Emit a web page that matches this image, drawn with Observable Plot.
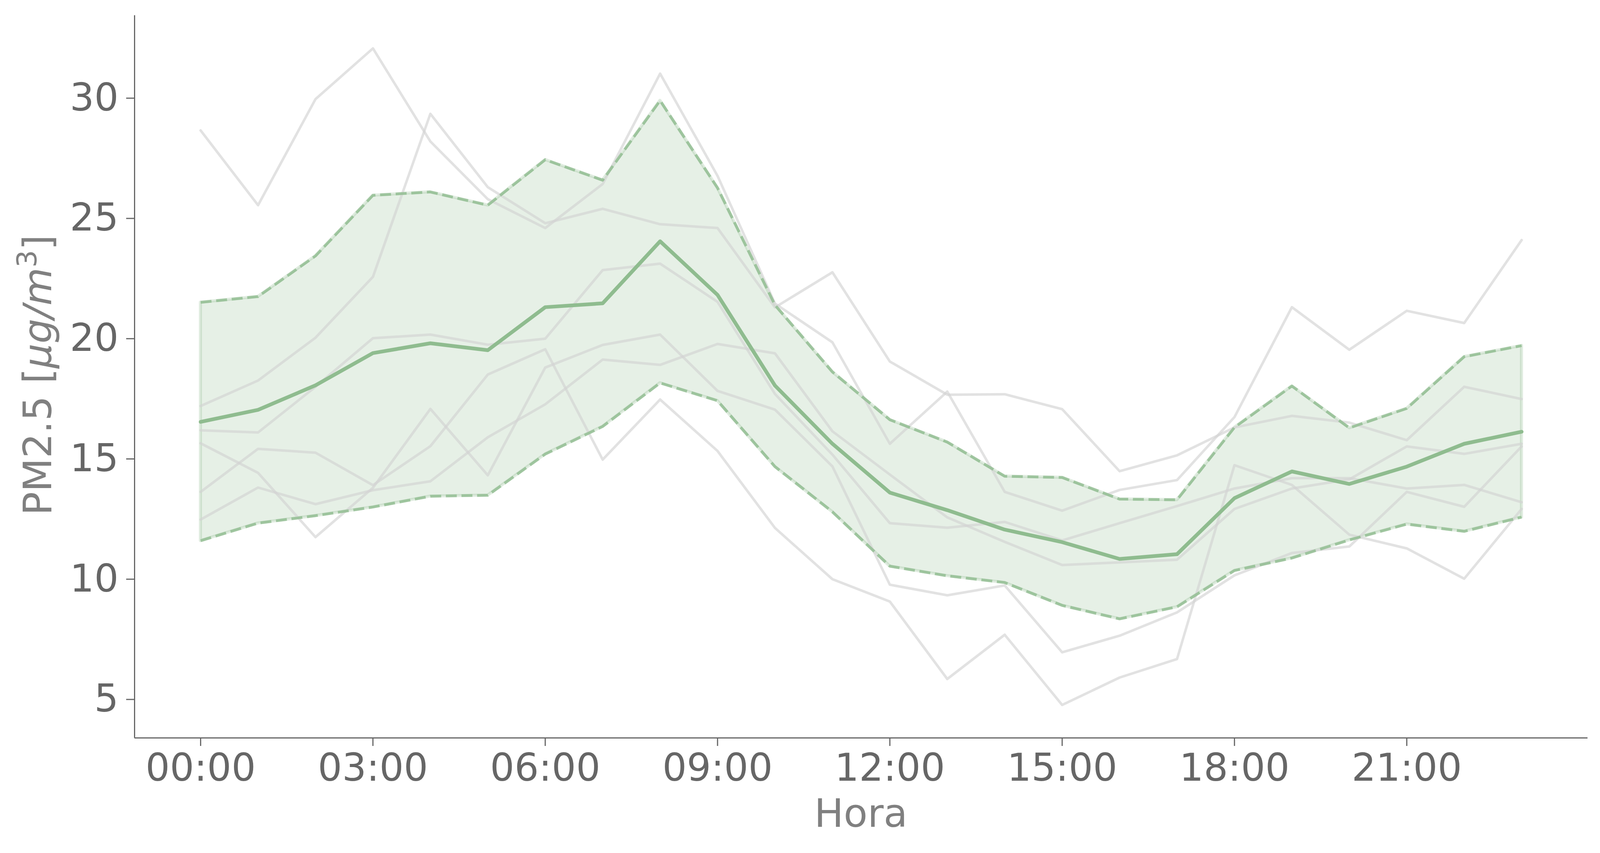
<!DOCTYPE html>
<html>
<head>
<meta charset="utf-8">
<script src="https://cdn.jsdelivr.net/npm/d3@7"></script>
<script src="https://cdn.jsdelivr.net/npm/@observablehq/plot@0.6"></script>
<style>
  html, body { margin: 0; padding: 0; background: #ffffff; }
  #chart { width: 4103px; height: 2183px; }
</style>
</head>
<body>
<div id="chart"></div>
<script>
// ---- data ----
const hours = [0, 1, 2, 3, 4, 5, 6, 7, 8, 9, 10, 11, 12, 13, 14, 15, 16, 17, 18, 19, 20, 21, 22, 23];
const tickHours = [0, 3, 6, 9, 12, 15, 18, 21];
const tickLabels = ["00:00", "03:00", "06:00", "09:00", "12:00", "15:00", "18:00", "21:00"];
const yTicks = [5, 10, 15, 20, 25, 30];

const series1 = [28.66, 25.55, 29.96, 32.07, 28.2, 25.8, 24.6, 26.43, 31.02, 26.77, 21.46, 19.85, 15.63, 17.8, 13.63, 12.85, 13.71, 14.12, 16.74, 21.31, 19.54, 21.16, 20.65, 24.1];
const series2 = [17.2, 18.26, 20.04, 22.57, 29.35, 26.3, 24.8, 25.4, 24.76, 24.6, 21.3, 22.76, 19.05, 17.67, 17.69, 17.07, 14.49, 15.15, 16.31, 16.79, 16.51, 15.78, 18.0, 17.49];
const series3 = [16.19, 16.1, 18.0, 20.02, 20.17, 19.75, 20.0, 22.85, 23.12, 21.53, 17.7, 15.18, 12.33, 12.14, 12.38, 11.61, 12.33, 13.04, 13.77, 14.2, 14.2, 13.77, 13.92, 13.2];
const series4 = [15.65, 14.42, 11.75, 13.8, 17.08, 14.32, 18.8, 19.74, 20.17, 17.83, 17.05, 14.69, 9.77, 9.33, 9.74, 6.96, 7.65, 8.62, 10.16, 11.09, 11.36, 13.63, 13.01, 15.52];
const series5 = [13.63, 15.42, 15.26, 13.91, 15.53, 18.51, 19.56, 14.97, 17.47, 15.33, 12.13, 10.0, 9.07, 5.85, 7.69, 4.77, 5.91, 6.68, 14.74, 13.92, 11.85, 11.28, 10.02, 12.92];
const series6 = [12.48, 13.81, 13.12, 13.7, 14.07, 15.9, 17.27, 19.13, 18.91, 19.78, 19.39, 16.15, 14.35, 12.57, 11.55, 10.59, 10.7, 10.81, 12.92, 13.77, 14.15, 15.52, 15.21, 15.63];

const meanValues  = [16.54, 17.04, 18.06, 19.4, 19.81, 19.52, 21.31, 21.47, 24.05, 21.82, 18.05, 15.63, 13.6, 12.87, 12.06, 11.54, 10.84, 11.04, 13.37, 14.48, 13.96, 14.68, 15.63, 16.13];
const upperValues = [21.51, 21.75, 23.44, 25.96, 26.1, 25.55, 27.44, 26.59, 29.9, 26.27, 21.4, 18.62, 16.63, 15.7, 14.28, 14.23, 13.33, 13.3, 16.31, 18.03, 16.29, 17.1, 19.25, 19.71];
const lowerValues = [11.6, 12.33, 12.64, 13.0, 13.45, 13.49, 15.2, 16.35, 18.16, 17.42, 14.68, 12.8, 10.54, 10.14, 9.86, 8.91, 8.35, 8.85, 10.36, 10.88, 11.63, 12.29, 11.99, 12.58];

// ---- tables built from the arrays ----
const greySeries = [series1, series2, series3, series4, series5, series6];
const greyRows = greySeries.flatMap((vals, i) => hours.map((h, j) => ({hour: h, value: vals[j], series: i})));
const band = hours.map((h, j) => ({hour: h, mean: meanValues[j], upper: upperValues[j], lower: lowerValues[j]}));

const xDomain = [-1.15, 24.15];
const yDomain = [3.4, 33.44];
const green = "darkseagreen";
const axisColor = "#666666";
const font = "DejaVu Sans";

const chart = Plot.plot({
  width: 4103,
  height: 2183,
  marginLeft: 344,
  marginRight: 39,
  marginTop: 39,
  marginBottom: 295,
  style: {background: "#ffffff", fontFamily: font, fontSize: "98px", color: axisColor, overflow: "visible"},
  x: {type: "linear", domain: xDomain},
  y: {type: "linear", domain: yDomain},
  marks: [
    Plot.areaY(band, {x: "hour", y1: "lower", y2: "upper", fill: green, fillOpacity: 0.22, stroke: green, strokeOpacity: 0.28, strokeWidth: 8, strokeLinejoin: "round", curve: "linear"}),
    Plot.line(greyRows, {x: "hour", y: "value", z: "series", stroke: "#d3d3d3", strokeOpacity: 0.65, strokeWidth: 6.5, curve: "linear"}),
    Plot.line(band, {x: "hour", y: "upper", stroke: green, strokeOpacity: 0.8, strokeWidth: 7, strokeDasharray: "28,12", strokeLinecap: "butt", curve: "linear"}),
    Plot.line(band, {x: "hour", y: "lower", stroke: green, strokeOpacity: 0.8, strokeWidth: 7, strokeDasharray: "28,12", strokeLinecap: "butt", curve: "linear"}),
    Plot.line(band, {x: "hour", y: "mean", stroke: green, strokeWidth: 9.5, curve: "linear"}),
    Plot.ruleX([xDomain[0]], {stroke: axisColor, strokeWidth: 3}),
    Plot.ruleY([yDomain[0]], {stroke: axisColor, strokeWidth: 3}),
    Plot.axisX({ticks: tickHours, tickFormat: (d) => tickLabels[tickHours.indexOf(d)], tickSize: 21, tickPadding: 19, stroke: axisColor, strokeWidth: 3, fill: axisColor, label: null}),
    Plot.axisY({ticks: yTicks, tickSize: 21, tickPadding: 20, stroke: axisColor, strokeWidth: 3, fill: axisColor, label: null})
  ]
});

document.getElementById("chart").appendChild(chart);

// axis titles as real text
const svg = d3.select(chart);
svg.append("text")
  .attr("x", (344 + 4064) / 2)
  .attr("y", 2116)
  .attr("text-anchor", "middle")
  .attr("font-family", font)
  .attr("font-size", 100)
  .attr("fill", "#808080")
  .text("Hora");

const yl = svg.append("text")
  .attr("transform", "translate(131,960) rotate(-90)")
  .attr("text-anchor", "middle")
  .attr("font-family", font)
  .attr("font-size", 100)
  .attr("fill", "#808080");
yl.append("tspan").text("PM2.5 [");
yl.append("tspan").attr("font-style", "italic").text("μg/m");
yl.append("tspan").attr("font-size", 70).attr("dy", -38).text("3");
yl.append("tspan").attr("dy", 38).text("]");
</script>
</body>
</html>
